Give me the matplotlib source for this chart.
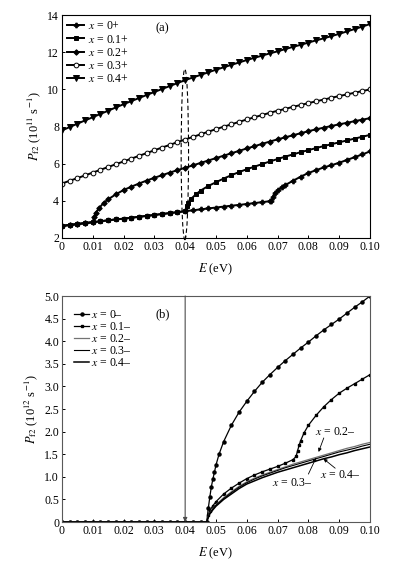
import numpy as np
from matplotlib import pyplot as plt
from matplotlib.patches import Ellipse

plt.rcParams.update({
    "font.family": ["Liberation Serif", "DejaVu Serif"],
    "mathtext.fontset": "stix",
    "font.size": 8.5,
    "axes.linewidth": 0.8,
    "xtick.direction": "in",
    "ytick.direction": "in",
    "xtick.major.size": 2.5,
    "ytick.major.size": 2.5,
    "xtick.major.width": 0.7,
    "ytick.major.width": 0.7,
})

# ---------------- panel (a) data, P_f2 in 1e11 s^-1 ----------------
E_FULL = [0.0, 0.0025, 0.005, 0.0075, 0.01, 0.0125, 0.015, 0.0175, 0.02, 0.0225,
          0.025, 0.0275, 0.03, 0.0325, 0.035, 0.0375, 0.04, 0.0425, 0.045, 0.0475,
          0.05, 0.0525, 0.055, 0.0575, 0.06, 0.0625, 0.065, 0.0675, 0.07, 0.0725,
          0.075, 0.0775, 0.08, 0.0825, 0.085, 0.0875, 0.09, 0.0925, 0.095, 0.0975, 0.1]

P_A04 = [7.79, 7.97, 8.15, 8.33, 8.50, 8.68, 8.85, 9.03, 9.20, 9.37,
         9.53, 9.70, 9.86, 10.02, 10.18, 10.34, 10.50, 10.64, 10.78, 10.92,
         11.06, 11.19, 11.32, 11.45, 11.58, 11.70, 11.82, 11.94, 12.05, 12.17,
         12.29, 12.40, 12.52, 12.64, 12.75, 12.87, 12.99, 13.12, 13.25, 13.38, 13.52]

P_A03 = [4.93, 5.08, 5.22, 5.37, 5.52, 5.67, 5.82, 5.97, 6.12, 6.27,
         6.42, 6.57, 6.72, 6.87, 7.01, 7.16, 7.30, 7.44, 7.58, 7.72,
         7.86, 7.99, 8.12, 8.25, 8.38, 8.50, 8.62, 8.74, 8.85, 8.95,
         9.06, 9.16, 9.26, 9.36, 9.45, 9.55, 9.64, 9.73, 9.82, 9.91, 10.0]

E_A02 = [0.0, 0.0025, 0.005, 0.0075, 0.01, 0.0105, 0.011, 0.012, 0.0135, 0.015,
         0.0175, 0.02, 0.0225, 0.025, 0.0275, 0.03, 0.0325, 0.035, 0.0375, 0.04,
         0.0425, 0.045, 0.0475, 0.05, 0.0525, 0.055, 0.0575, 0.06, 0.0625, 0.065,
         0.0675, 0.07, 0.0725, 0.075, 0.0775, 0.08, 0.0825, 0.085, 0.0875, 0.09,
         0.0925, 0.095, 0.0975, 0.1]
P_A02 = [2.65, 2.70, 2.75, 2.80, 2.85, 3.15, 3.35, 3.60, 3.88, 4.08,
         4.35, 4.58, 4.76, 4.93, 5.09, 5.24, 5.38, 5.52, 5.65, 5.78,
         5.91, 6.04, 6.17, 6.30, 6.43, 6.56, 6.69, 6.82, 6.94, 7.07,
         7.19, 7.31, 7.42, 7.53, 7.64, 7.75, 7.85, 7.94, 8.03, 8.12,
         8.20, 8.29, 8.37, 8.45]

E_A01 = [0.0, 0.0025, 0.005, 0.0075, 0.01, 0.0125, 0.015, 0.0175, 0.02, 0.0225,
         0.025, 0.0275, 0.03, 0.0325, 0.035, 0.0375, 0.04, 0.0405, 0.041, 0.042,
         0.0435, 0.045, 0.0475, 0.05, 0.0525, 0.055, 0.0575, 0.06, 0.0625, 0.065,
         0.0675, 0.07, 0.0725, 0.075, 0.0775, 0.08, 0.0825, 0.085, 0.0875, 0.09,
         0.0925, 0.095, 0.0975, 0.1]
P_A01 = [2.65, 2.70, 2.75, 2.80, 2.85, 2.90, 2.95, 3.00, 3.04, 3.09,
         3.14, 3.19, 3.24, 3.29, 3.34, 3.39, 3.44, 3.70, 3.90, 4.12,
         4.35, 4.55, 4.80, 5.00, 5.20, 5.38, 5.55, 5.70, 5.84, 5.98,
         6.12, 6.25, 6.38, 6.50, 6.62, 6.73, 6.84, 6.95, 7.05, 7.15,
         7.25, 7.35, 7.45, 7.55]

E_A00 = [0.0, 0.0025, 0.005, 0.0075, 0.01, 0.0125, 0.015, 0.0175, 0.02, 0.0225,
         0.025, 0.0275, 0.03, 0.0325, 0.035, 0.0375, 0.04, 0.0425, 0.045, 0.0475,
         0.05, 0.0525, 0.055, 0.0575, 0.06, 0.0625, 0.065, 0.0675, 0.068, 0.0685,
         0.069, 0.07, 0.0715, 0.0725, 0.075, 0.0775, 0.08, 0.0825, 0.085, 0.0875,
         0.09, 0.0925, 0.095, 0.0975, 0.1]
P_A00 = [2.65, 2.70, 2.75, 2.80, 2.85, 2.90, 2.95, 3.00, 3.04, 3.09,
         3.14, 3.19, 3.24, 3.29, 3.34, 3.39, 3.44, 3.49, 3.54, 3.59,
         3.64, 3.69, 3.74, 3.78, 3.83, 3.88, 3.93, 3.98, 3.99, 4.20,
         4.40, 4.58, 4.75, 4.85, 5.08, 5.30, 5.50, 5.65, 5.80, 5.92,
         6.05, 6.20, 6.35, 6.50, 6.66]

# ---------------- panel (b) data, P_f2 in 1e12 s^-1 ----------------
E_ZERO = [0.0, 0.0025, 0.005, 0.0075, 0.01, 0.0125, 0.015, 0.0175, 0.02, 0.0225,
          0.025, 0.0275, 0.03, 0.0325, 0.035, 0.0375, 0.04, 0.0425, 0.045, 0.047]

E_B00 = [0.0475, 0.048, 0.0485, 0.049, 0.0495, 0.05, 0.051, 0.0525, 0.055, 0.0575,
         0.06, 0.0625, 0.065, 0.0675, 0.07, 0.0725, 0.075, 0.0775, 0.08, 0.0825,
         0.085, 0.0875, 0.09, 0.0925, 0.095, 0.0975, 0.1]
P_B00 = [0.30, 0.55, 0.78, 0.95, 1.10, 1.26, 1.50, 1.78, 2.14, 2.43,
         2.67, 2.89, 3.09, 3.26, 3.42, 3.57, 3.71, 3.85, 3.98, 4.12,
         4.25, 4.37, 4.49, 4.62, 4.75, 4.87, 5.00]

E_B01 = [0.0475, 0.048, 0.049, 0.05, 0.0525, 0.055, 0.0575, 0.06, 0.0625, 0.065,
         0.0675, 0.07, 0.0725, 0.075, 0.076, 0.0765, 0.077, 0.0775, 0.0785, 0.08,
         0.0825, 0.085, 0.0875, 0.09, 0.0925, 0.095, 0.0975, 0.1]
P_B01 = [0.15, 0.25, 0.36, 0.45, 0.62, 0.75, 0.86, 0.96, 1.04, 1.11,
         1.17, 1.23, 1.30, 1.38, 1.45, 1.58, 1.70, 1.80, 1.96, 2.14,
         2.36, 2.55, 2.71, 2.85, 2.96, 3.06, 3.16, 3.26]

E_BLOW = [0.0, 0.047, 0.0475, 0.048, 0.049, 0.05, 0.0525, 0.055, 0.0575, 0.06,
          0.0625, 0.065, 0.0675, 0.07, 0.0725, 0.075, 0.0775, 0.08, 0.0825, 0.085,
          0.0875, 0.09, 0.0925, 0.095, 0.0975, 0.1]
P_B02 = [0.0, 0.0, 0.12, 0.20, 0.30, 0.38, 0.54, 0.67, 0.79, 0.89,
         0.97, 1.04, 1.10, 1.16, 1.22, 1.28, 1.33, 1.38, 1.43, 1.48,
         1.53, 1.58, 1.63, 1.67, 1.72, 1.76]
P_B03 = [0.0, 0.0, 0.11, 0.19, 0.29, 0.37, 0.52, 0.65, 0.77, 0.87,
         0.95, 1.02, 1.08, 1.14, 1.20, 1.25, 1.30, 1.35, 1.40, 1.45,
         1.50, 1.55, 1.59, 1.63, 1.68, 1.72]
P_B04 = [0.0, 0.0, 0.10, 0.18, 0.27, 0.35, 0.50, 0.62, 0.74, 0.84,
         0.91, 0.98, 1.04, 1.10, 1.15, 1.20, 1.25, 1.30, 1.35, 1.40,
         1.44, 1.49, 1.53, 1.58, 1.62, 1.66]

X_TICKS = [0.0, 0.01, 0.02, 0.03, 0.04, 0.05, 0.06, 0.07, 0.08, 0.09, 0.10]
X_TICKLABELS = ["0", "0.01", "0.02", "0.03", "0.04", "0.05", "0.06", "0.07", "0.08", "0.09", "0.10"]
YA_TICKS = [2, 4, 6, 8, 10, 12, 14]
YB_TICKS = [0, 0.5, 1.0, 1.5, 2.0, 2.5, 3.0, 3.5, 4.0, 4.5, 5.0]
YB_TICKLABELS = ["0", "0.5", "1.0", "1.5", "2.0", "2.5", "3.0", "3.5", "4.0", "4.5", "5.0"]

FS = 8.5


def style_axes(ax):
    ax.set_xlim(0, 0.1)
    ax.set_xticks(X_TICKS)
    ax.set_xticklabels(X_TICKLABELS)
    ax.tick_params(top=False, right=False, pad=2, labelsize=FS)
    ax.set_xlabel(r"$E$ (eV)", fontsize=9, labelpad=6)


fig = plt.figure(figsize=(3.97, 5.70), dpi=100)

# ---- (a) ----
ax = fig.add_axes([0.156, 0.5825, 0.776, 0.391])
mk = dict(color="black", lw=1.4, ms=3.4, mew=0.7)
ax.plot(E_A00, P_A00, marker="P", label=r"$x$ = 0+", **mk)
ax.plot(E_A01, P_A01, marker="s", label=r"$x$ = 0.1+", **dict(mk, ms=3.0))
ax.plot(E_A02, P_A02, marker="D", label=r"$x$ = 0.2+", **dict(mk, ms=2.8))
ax.plot(E_FULL, P_A03, marker="o", mfc="white", label=r"$x$ = 0.3+", **mk)
ax.plot(E_FULL, P_A04, marker="v", label=r"$x$ = 0.4+", **dict(mk, ms=3.8))

# dashed ellipse marking the E = 0.04 eV region
ax.add_patch(Ellipse((0.0399, 6.5), 0.0024, 9.2, fill=False, ls=(0, (4, 2.5)),
                     lw=0.8, color="black", clip_on=False))
ax.text(0.0325, 13.3, "(a)", ha="center", va="center", fontsize=9)
ax.set_ylim(2, 14)
ax.set_yticks(YA_TICKS)
style_axes(ax)
ax.set_ylabel(r"$P_{\rm f2}$ (10$^{11}$ s$^{-1}$)", fontsize=9, labelpad=3)
ax.legend(loc="upper left", bbox_to_anchor=(0.0, 1.0), frameon=False, fontsize=FS,
          handlelength=1.4, handletextpad=0.35, labelspacing=0.1, borderpad=0.25,
          borderaxespad=0.2)

# ---- (b) ----
bx = fig.add_axes([0.156, 0.0842, 0.776, 0.3965])
for s in bx.spines.values():
    s.set_color("0.35")
zeros = [0.0] * len(E_ZERO)
bx.plot(E_ZERO + E_B00, zeros + P_B00, marker="o", color="black", lw=0.9, ms=2.2,
        label=r"$x$ = 0–")
bx.plot(E_ZERO + E_B01, zeros + P_B01, marker="s", color="black", lw=0.9, ms=1.9,
        label=r"$x$ = 0.1–")
bx.plot(E_BLOW, P_B02, color="0.45", lw=0.9, label=r"$x$ = 0.2–")
bx.plot(E_BLOW, P_B03, color="black", lw=0.8, label=r"$x$ = 0.3–")
bx.plot(E_BLOW, P_B04, color="black", lw=1.1, label=r"$x$ = 0.4–")

bx.annotate("", xy=(0.04, 0.0), xytext=(0.04, 5.0),
            arrowprops=dict(arrowstyle="-|>", color="0.3", lw=0.8,
                            mutation_scale=6, shrinkA=0, shrinkB=0))

arrow_kw = dict(arrowstyle="-|>", color="black", lw=0.6, mutation_scale=5,
                shrinkA=0, shrinkB=0)
bx.text(0.0822, 2.0, r"$x$ = 0.2–", ha="left", va="center", fontsize=FS)
bx.annotate("", xy=(0.0833, 1.55), xytext=(0.0850, 1.86), arrowprops=arrow_kw)
bx.text(0.0681, 0.87, r"$x$ = 0.3–", ha="left", va="center", fontsize=FS)
bx.annotate("", xy=(0.0825, 1.42), xytext=(0.0800, 1.06), arrowprops=arrow_kw)
bx.text(0.0838, 1.04, r"$x$ = 0.4–", ha="left", va="center", fontsize=FS)
bx.annotate("", xy=(0.0849, 1.40), xytext=(0.0887, 1.19), arrowprops=arrow_kw)

bx.text(0.0328, 4.6, "(b)", ha="center", va="center", fontsize=9)
bx.set_ylim(0, 5.0)
bx.set_yticks(YB_TICKS)
bx.set_yticklabels(YB_TICKLABELS)
style_axes(bx)
bx.set_ylabel(r"$P_{\rm f2}$ (10$^{12}$ s$^{-1}$)", fontsize=9, labelpad=3)
bx.legend(loc="upper left", bbox_to_anchor=(0.02, 0.97), frameon=False, fontsize=FS,
          handlelength=1.3, handletextpad=0.1, labelspacing=0.0, borderpad=0.3,
          borderaxespad=0.2)

fig.savefig("out.png", dpi=100)
